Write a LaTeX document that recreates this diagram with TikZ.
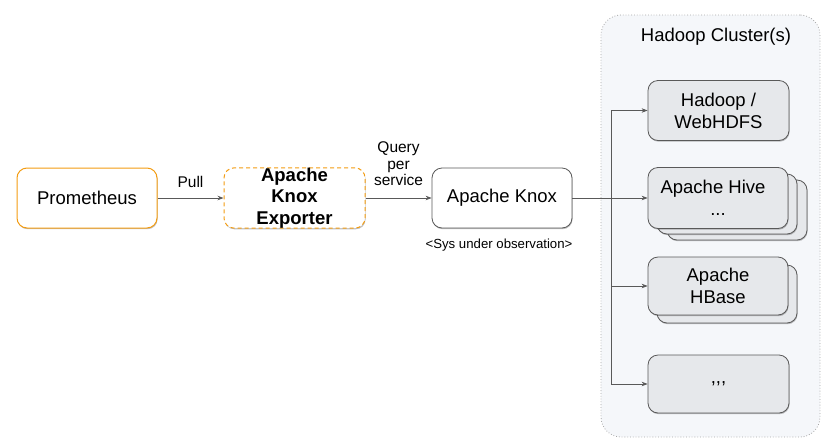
\documentclass[tikz,border=0pt]{standalone}
\usepackage{fontspec}
\setmainfont{Liberation Sans}
\usetikzlibrary{shadows,arrows.meta}
\definecolor{orng}{HTML}{F39C12}
\definecolor{bord}{HTML}{595959}
\definecolor{boxfill}{HTML}{E6E8EB}
\definecolor{clfill}{HTML}{F5F7FA}
\definecolor{arrc}{HTML}{595959}
\tikzset{
  shad/.style={drop shadow={shadow xshift=0.6pt,shadow yshift=-1.2pt,opacity=0.25,fill=black}},
  basebox/.style={rounded corners=10pt, align=center, font=\fontsize{18.5}{22}\selectfont, inner sep=0pt, line width=0.8pt, shad},
  promebox/.style={basebox, draw=orng, line width=1pt, fill=white, minimum width=140pt, minimum height=60pt},
  expbox/.style={basebox, draw=orng, line width=1pt, dash pattern=on 4pt off 3pt, fill=white, minimum width=141pt, minimum height=60pt, font=\fontsize{18.5}{21.5}\selectfont\bfseries},
  knoxbox/.style={basebox, draw=bord, fill=white, minimum width=140pt, minimum height=60pt},
  svcbox/.style={basebox, draw=bord, fill=boxfill, minimum width=141pt, minimum height=60pt},
  arr/.style={draw=arrc, line width=0.7pt, -{Stealth[length=6pt,width=4.5pt]}},
  lbl/.style={font=\fontsize{15.5}{16.5}\selectfont, align=center, inner sep=0pt},
}
\begin{document}
\begin{tikzpicture}[x=1pt,y=-1pt]
\useasboundingbox (0,0) rectangle (838,445);
% cluster
\node[draw=gray!70, dotted, line width=0.8pt, fill=clfill, rounded corners=20pt, minimum width=219pt, minimum height=422pt, inner sep=0pt] (cluster) at (710.5,226) {};
\node[font=\fontsize{18.5}{22}\selectfont, inner sep=0pt] (cltitle) at (716,37) {Hadoop Cluster(s)};
% left nodes
\node[promebox] (prom) at (87,198) {Prometheus};
\node[expbox] (exp) at (294.5,198) {Apache\\Knox\\Exporter};
\node[knoxbox] (knox) at (502,198) {Apache Knox};
\node[font=\fontsize{13.2}{15}\selectfont, inner sep=0pt] (sys) at (499,245) {<Sys under observation>};
% services
\node[svcbox] (hadoop) at (718.5,110.5) {Hadoop /\\WebHDFS};
\node[svcbox, minimum width=140pt] (hive3) at (737,210) {};
\node[svcbox, minimum width=140pt] (hive2) at (727,204) {};
\node[svcbox, minimum width=140pt, minimum height=61pt] (hive) at (718,198) {\hspace*{-10pt}Apache Hive\\...};
\node[svcbox, minimum width=140pt, minimum height=58pt] (hbase2) at (727,294) {};
\node[svcbox, minimum width=140pt, minimum height=58pt] (hbase) at (718,286) {Apache\\HBase};
\node[svcbox, minimum height=58pt] (dots) at (718.5,384) {{,}{,}{,}};
% connectors
\draw[arr] (prom) -- node[lbl, above=10pt] (pull) {Pull} (exp);
\draw[arr] (exp) -- node[lbl, above=12pt] (qps) {Query\\per\\service} (knox);
\draw[arr] (knox) -- (hive);
\coordinate (bt) at (611,110.5);
\coordinate (bb) at (611,384);
\draw[draw=arrc, line width=0.7pt] (bt) -- (bb);
\draw[arr] (bt) -- (hadoop.west);
\draw[arr] (bt |- hbase.west) -- (hbase.west);
\draw[arr] (bb) -- (dots.west);
\end{tikzpicture}
\end{document}
